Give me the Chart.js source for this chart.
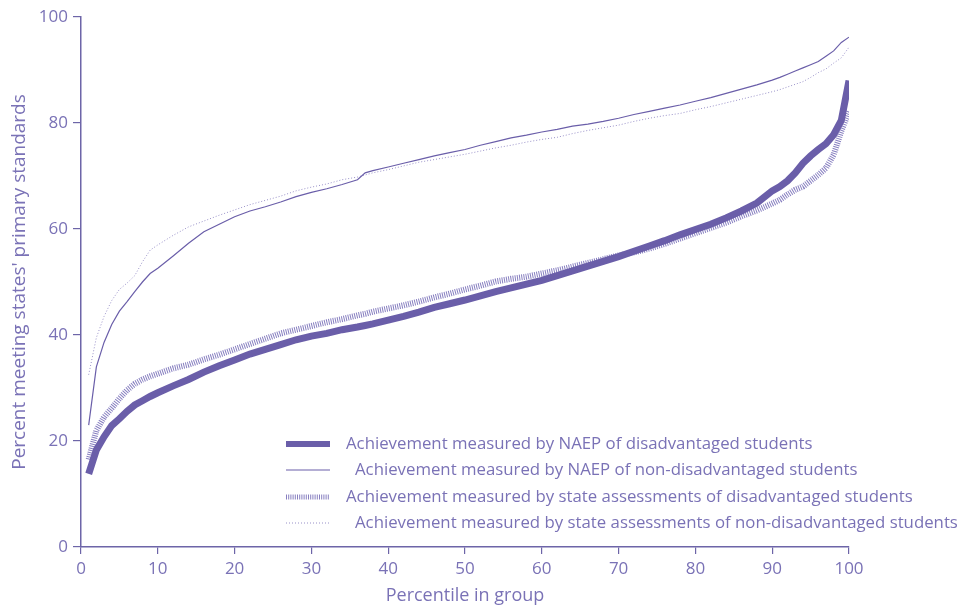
<!doctype html>
<html lang="en">
<head>
  <meta charset="utf-8">
  <title>Percent meeting states' primary standards</title>
  <style>
    html,body{
      width:100%;
      height:100%;
      margin:0;
      padding:0;overflow:hidden;
      background:#fff;
    }
    .chart-p{
      width:960px;
      height:609px;
    }
  </style>
</head>
<body>

  <div class='chart-p'>
    <canvas id="chart0" width="960" height="609"></canvas>
  </div>

  <script src='https://cdn.jsdelivr.net/npm/chart.js@4.4.1/dist/chart.umd.min.js'></script>
  <script>
    // percentile in group (x positions)
    var percentiles = [1,2,3,4,5,6,7,8,9,10,12,14,16,18,20,22,24,26,28,30,32,34,36,37,38,40,42,44,46,48,50,52,54,56,58,60,62,64,66,68,70,72,74,76,78,80,82,84,86,88,90,91,92,93,94,95,96,97,98,99,100]

    var naepDis = [13.8,18.3,20.8,22.9,24.2,25.6,26.8,27.6,28.4,29.1,30.4,31.6,33.0,34.2,35.3,36.4,37.3,38.2,39.1,39.8,40.3,41.0,41.5,41.8,42.1,42.8,43.5,44.3,45.2,45.9,46.6,47.4,48.2,48.9,49.6,50.3,51.2,52.1,53.0,53.9,54.8,55.8,56.8,57.8,58.9,59.9,60.9,62.1,63.4,64.9,67.2,68.0,69.1,70.6,72.4,73.8,75.0,76.1,77.8,80.5,88.0]

    var naepNon = [23.0,34.0,38.6,42.0,44.5,46.3,48.2,50.0,51.6,52.6,54.9,57.3,59.5,60.9,62.3,63.4,64.2,65.1,66.1,66.9,67.6,68.4,69.3,70.6,71.0,71.7,72.4,73.1,73.8,74.4,75.0,75.8,76.5,77.2,77.7,78.3,78.8,79.4,79.8,80.3,80.9,81.6,82.2,82.8,83.4,84.1,84.8,85.6,86.4,87.2,88.1,88.6,89.2,89.8,90.4,91.0,91.6,92.6,93.6,95.2,96.2]

    var stateDis = [16.5,22.0,24.5,26.2,28.0,29.6,30.8,31.6,32.2,32.7,33.7,34.4,35.4,36.3,37.3,38.3,39.3,40.3,41.0,41.7,42.4,43.0,43.7,44.0,44.4,45.0,45.6,46.3,47.1,47.8,48.6,49.3,50.1,50.6,51.0,51.6,52.2,52.9,53.6,54.3,55.0,55.6,56.3,57.2,58.2,59.2,60.2,61.2,62.4,63.5,64.8,65.5,66.5,67.4,68.0,69.1,70.2,71.5,74.0,78.5,82.2]

    var stateNon = [32.5,39.5,43.5,46.5,48.6,49.8,51.2,53.8,56.0,57.0,58.8,60.4,61.5,62.6,63.6,64.6,65.4,66.2,67.2,67.9,68.5,69.3,69.8,70.2,70.6,71.2,71.9,72.6,73.1,73.6,74.1,74.7,75.3,75.8,76.4,76.9,77.3,78.0,78.6,79.1,79.6,80.3,80.9,81.4,81.8,82.5,83.1,83.8,84.5,85.2,85.9,86.3,86.8,87.3,87.8,88.6,89.5,90.2,91.3,92.3,94.3]

    var seriesNames = [
      'Achievement measured by NAEP of disadvantaged students',
      'Achievement measured by NAEP of non-disadvantaged students',
      'Achievement measured by state assessments of disadvantaged students',
      'Achievement measured by state assessments of non-disadvantaged students'
    ]

    var xTicks = [0,10,20,30,40,50,60,70,80,90,100]
    var yTicks = [0,20,40,60,80,100]

    var textColor = '#7a72b6'
    var axisColor = '#6d65a8'
    var fontFam = "'Open Sans', 'Noto Sans', sans-serif"

    function pts(vals){
      var out = []
      for (var i = 0; i < percentiles.length; i++){
        out.push({x: percentiles[i], y: vals[i]})
      }
      return out
    }

    // legend drawn inside the plot, lower right
    var insideLegend = {
      id: 'insideLegend',
      afterDraw: function(chart){
        var ctx = chart.ctx
        var rows = [444, 470, 497, 523]
        var textX = [346, 355, 346, 355]
        ctx.save()
        chart.data.datasets.forEach(function(ds, i){
          var y = rows[i]
          ctx.beginPath()
          ctx.strokeStyle = ds.borderColor
          ctx.lineWidth = ds.legendWidth
          ctx.lineCap = 'butt'
          ctx.setLineDash(ds.borderDash || [])
          ctx.moveTo(286, y)
          ctx.lineTo(330, y)
          ctx.stroke()
          ctx.setLineDash([])
          ctx.fillStyle = textColor
          ctx.font = '16.8px ' + fontFam
          ctx.textBaseline = 'middle'
          ctx.textAlign = 'left'
          ctx.fillText(ds.label, textX[i], y)
        })
        ctx.restore()
      }
    }

    var ctx = document.getElementById('chart0').getContext('2d')
    var myChart = new Chart(ctx, {
      type: 'line',
      data: {
        datasets: [
          {
            label: seriesNames[0],
            data: pts(naepDis),
            borderColor: '#6a5ea9',
            borderWidth: 7,
            legendWidth: 6,
            pointRadius: 0,
            tension: 0,
            order: 0
          },
          {
            label: seriesNames[1],
            data: pts(naepNon),
            borderColor: '#6a5ea9',
            borderWidth: 1.2,
            legendWidth: 1.2,
            pointRadius: 0,
            tension: 0,
            order: 1
          },
          {
            label: seriesNames[2],
            data: pts(stateDis),
            borderColor: '#877fc0',
            borderWidth: 6,
            borderDash: [1, 1.2],
            borderCapStyle: 'butt',
            legendWidth: 5,
            pointRadius: 0,
            tension: 0,
            order: 2
          },
          {
            label: seriesNames[3],
            data: pts(stateNon),
            borderColor: '#9890c8',
            borderWidth: 1,
            borderDash: [1, 2],
            legendWidth: 1,
            pointRadius: 0,
            tension: 0,
            order: 3
          }
        ]
      },
      options: {
        responsive: false,
        animation: false,
        layout: {
          padding: {top: 17, right: 111, bottom: 0, left: 0}
        },
        plugins: {
          legend: {display: false},
          tooltip: {enabled: false}
        },
        scales: {
          x: {
            type: 'linear',
            min: 0,
            max: 100,
            afterFit: function(s){ s.height = 62 },
            afterBuildTicks: function(s){ s.ticks = xTicks.map(function(v){ return {value: v} }) },
            grid: {drawOnChartArea: false, drawTicks: true, tickLength: 7, color: axisColor, lineWidth: 1.2},
            border: {display: true, color: axisColor, width: 1.5},
            ticks: {color: textColor, padding: 5, font: {family: fontFam, size: 17}, maxRotation: 0},
            title: {display: true, text: 'Percentile in group', color: textColor, font: {family: fontFam, size: 18}, padding: {top: 0, bottom: 2}}
          },
          y: {
            min: 0,
            max: 100,
            afterFit: function(s){ s.width = 81 },
            afterBuildTicks: function(s){ s.ticks = yTicks.map(function(v){ return {value: v} }) },
            grid: {drawOnChartArea: false, drawTicks: true, tickLength: 8, color: axisColor, lineWidth: 1.2},
            border: {display: true, color: axisColor, width: 1.5},
            ticks: {color: textColor, padding: 5, font: {family: fontFam, size: 17}},
            title: {display: true, text: "Percent meeting states' primary standards", color: textColor, font: {family: fontFam, size: 19}, padding: {top: 8, bottom: 0}}
          }
        }
      },
      plugins: [insideLegend]
    })
  </script>
</body>
</html>
